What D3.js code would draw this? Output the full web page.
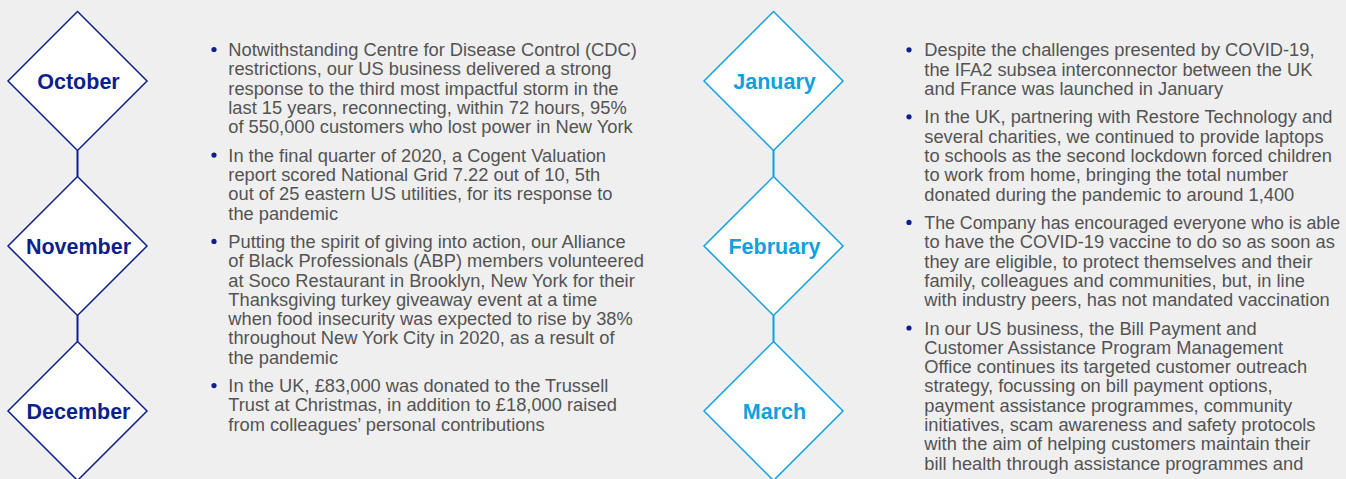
<!DOCTYPE html>
<html>
<head>
<meta charset="utf-8">
<script src="https://cdn.jsdelivr.net/npm/d3@7"></script>
<style>
  html, body { margin: 0; padding: 0; background: #efefef; overflow: hidden; }
  svg { display: block; }
</style>
</head>
<body>
<svg id="chart" width="1346" height="479"></svg>
<script>
// ---- Data ----
const leftMonths = ["October", "November", "December"];
const rightMonths = ["January", "February", "March"];

const leftBullets = [
  ["Notwithstanding Centre for Disease Control (CDC)",
   "restrictions, our US business delivered a strong",
   "response to the third most impactful storm in the",
   "last 15 years, reconnecting, within 72 hours, 95%",
   "of 550,000 customers who lost power in New York"],
  ["In the final quarter of 2020, a Cogent Valuation",
   "report scored National Grid 7.22 out of 10, 5th",
   "out of 25 eastern US utilities, for its response to",
   "the pandemic"],
  ["Putting the spirit of giving into action, our Alliance",
   "of Black Professionals (ABP) members volunteered",
   "at Soco Restaurant in Brooklyn, New York for their",
   "Thanksgiving turkey giveaway event at a time",
   "when food insecurity was expected to rise by 38%",
   "throughout New York City in 2020, as a result of",
   "the pandemic"],
  ["In the UK, £83,000 was donated to the Trussell",
   "Trust at Christmas, in addition to £18,000 raised",
   "from colleagues’ personal contributions"]
];

const rightBullets = [
  ["Despite the challenges presented by COVID-19,",
   "the IFA2 subsea interconnector between the UK",
   "and France was launched in January"],
  ["In the UK, partnering with Restore Technology and",
   "several charities, we continued to provide laptops",
   "to schools as the second lockdown forced children",
   "to work from home, bringing the total number",
   "donated during the pandemic to around 1,400"],
  ["The Company has encouraged everyone who is able",
   "to have the COVID-19 vaccine to do so as soon as",
   "they are eligible, to protect themselves and their",
   "family, colleagues and communities, but, in line",
   "with industry peers, has not mandated vaccination"],
  ["In our US business, the Bill Payment and",
   "Customer Assistance Program Management",
   "Office continues its targeted customer outreach",
   "strategy, focussing on bill payment options,",
   "payment assistance programmes, community",
   "initiatives, scam awareness and safety protocols",
   "with the aim of helping customers maintain their",
   "bill health through assistance programmes and",
   "resources"]
];

// ---- Styles ----
const darkBlue = "#0d1f8c";
const lightBlue = "#11a0de";
const textGrey = "#535353";
const font = "'Liberation Sans', Arial, Helvetica, sans-serif";

const svg = d3.select("#chart");

const yMonth = d3.scalePoint().domain([0, 1, 2]).range([81, 411]);
const half = 69.5;

function drawTimeline(months, cx, color) {
  const g = svg.append("g");
  g.selectAll("line.conn")
    .data(d3.range(months.length - 1))
    .join("line")
    .attr("x1", cx).attr("x2", cx)
    .attr("y1", i => yMonth(i) + half)
    .attr("y2", i => yMonth(i + 1) - half)
    .attr("stroke", color)
    .attr("stroke-width", 2);
  g.selectAll("path.diamond")
    .data(months)
    .join("path")
    .attr("d", (d, i) => {
      const cy = yMonth(i);
      return `M${cx},${cy - half}L${cx + half},${cy}L${cx},${cy + half}L${cx - half},${cy}Z`;
    })
    .attr("fill", "#ffffff")
    .attr("stroke", color)
    .attr("stroke-width", 1.5);
  g.selectAll("text.month")
    .data(months)
    .join("text")
    .attr("x", cx + 1)
    .attr("y", (d, i) => yMonth(i) + 7.5)
    .attr("text-anchor", "middle")
    .attr("font-family", font)
    .attr("font-weight", "bold")
    .attr("font-size", 21.5)
    .attr("fill", color)
    .text(d => d);
}

function drawBullets(bullets, dotX, textX, startY, maxRight) {
  const lh = 19.3, gap = 9.1;
  const g = svg.append("g");
  let y = startY;
  bullets.forEach(lines => {
    g.append("circle")
      .attr("cx", dotX).attr("cy", y - 6.5)
      .attr("r", 2.6)
      .attr("fill", darkBlue);
    lines.forEach((ln, k) => {
      const t = g.append("text")
        .attr("x", textX)
        .attr("y", y + k * lh)
        .attr("font-family", font)
        .attr("font-size", 18.3)
        .attr("fill", textGrey)
        .text(ln);
      const w = t.node().getComputedTextLength();
      if (textX + w > maxRight) {
        t.attr("font-size", 18.3 * (maxRight - textX) / w);
      }
    });
    y += (lines.length - 1) * lh + lh + gap;
  });
}

drawTimeline(leftMonths, 77.5, darkBlue);
drawTimeline(rightMonths, 773.5, lightBlue);
drawBullets(leftBullets, 214, 228.3, 56, 644);
drawBullets(rightBullets, 909, 924.3, 56.3, 1340);
</script>
</body>
</html>
